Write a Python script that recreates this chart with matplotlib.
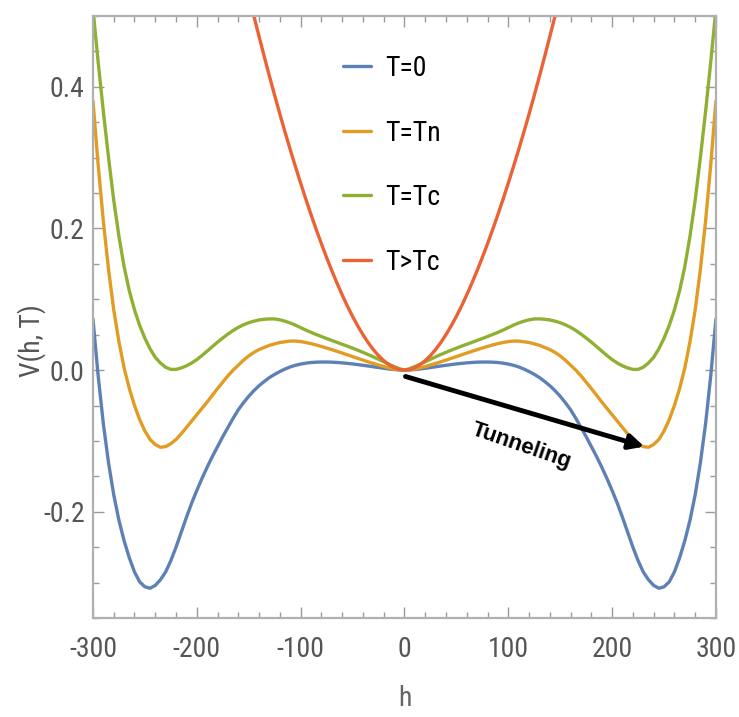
import matplotlib.pyplot as plt
import numpy as np
from matplotlib.ticker import MultipleLocator
from matplotlib import font_manager


def pick_narrow():
    fl = font_manager.fontManager.ttflist
    names = {f.name for f in fl}
    for p in ["Liberation Sans Narrow", "Arial Narrow", "Roboto Condensed",
              "Open Sans Condensed", "Noto Sans Condensed", "DejaVu Sans Condensed"]:
        if p in names:
            return p, "normal", True
    for f in fl:
        if (str(f.stretch) in ("condensed", "semi-condensed") and "Sans" in f.name
                and "Mono" not in f.name and "CJK" not in f.name):
            return f.name, f.stretch, True
    return "Roboto", "normal", False


font_name, font_stretch, is_narrow = pick_narrow()
plt.rcParams["font.family"] = [font_name, "DejaVu Sans"]
plt.rcParams["font.stretch"] = font_stretch
plt.rcParams["axes.unicode_minus"] = False
fs = 20 if is_narrow else 18

# h grid and potential values
h = np.arange(-300, 301, 5)
v_t0 = [0.072, -0.008, -0.076, -0.131, -0.176, -0.212, -0.241, -0.265, -0.285, -0.299,
        -0.306, -0.308, -0.304, -0.296, -0.285, -0.269, -0.250, -0.229, -0.208, -0.188,
        -0.170, -0.153, -0.137, -0.122, -0.108, -0.094, -0.081, -0.068, -0.056, -0.046,
        -0.037, -0.029, -0.022, -0.016, -0.0105, -0.006, -0.002, 0.0015, 0.0045, 0.0068,
        0.0085, 0.0098, 0.0107, 0.0112, 0.0114, 0.0114, 0.0112, 0.0108, 0.0102, 0.0095,
        0.0087, 0.0078, 0.0068, 0.0058, 0.0047, 0.0036, 0.0026, 0.0016, 0.0008, 0.0002,
        0.0,
        0.0002, 0.0008, 0.0016, 0.0026, 0.0036, 0.0047, 0.0058, 0.0068, 0.0078, 0.0087,
        0.0095, 0.0102, 0.0108, 0.0112, 0.0114, 0.0114, 0.0112, 0.0107, 0.0098, 0.0085,
        0.0068, 0.0045, 0.0015, -0.002, -0.006, -0.0105, -0.016, -0.022, -0.029, -0.037,
        -0.046, -0.056, -0.068, -0.081, -0.094, -0.108, -0.122, -0.137, -0.153, -0.170,
        -0.188, -0.208, -0.229, -0.250, -0.269, -0.285, -0.296, -0.304, -0.308, -0.306,
        -0.299, -0.285, -0.265, -0.241, -0.212, -0.176, -0.131, -0.076, -0.008, 0.072]
v_tn = [0.380, 0.290, 0.210, 0.142, 0.085, 0.040, 0.003, -0.026, -0.050, -0.070,
        -0.086, -0.098, -0.105, -0.109, -0.108, -0.104, -0.098, -0.090, -0.081, -0.072,
        -0.063, -0.054, -0.045, -0.0355, -0.026, -0.017, -0.008, 0.000, 0.007, 0.014,
        0.020, 0.025, 0.029, 0.032, 0.035, 0.037, 0.039, 0.040, 0.041, 0.041,
        0.0403, 0.039, 0.0374, 0.0355, 0.0334, 0.0312, 0.0289, 0.0265, 0.0241, 0.0216,
        0.0191, 0.0166, 0.0141, 0.0117, 0.0094, 0.0072, 0.0051, 0.0032, 0.0016, 0.0005,
        0.0,
        0.0005, 0.0016, 0.0032, 0.0051, 0.0072, 0.0094, 0.0117, 0.0141, 0.0166, 0.0191,
        0.0216, 0.0241, 0.0265, 0.0289, 0.0312, 0.0334, 0.0355, 0.0374, 0.039, 0.0403,
        0.041, 0.041, 0.040, 0.039, 0.037, 0.035, 0.032, 0.029, 0.025, 0.020,
        0.014, 0.007, 0.000, -0.008, -0.017, -0.026, -0.0355, -0.045, -0.054, -0.063,
        -0.072, -0.081, -0.090, -0.098, -0.104, -0.108, -0.109, -0.105, -0.098, -0.086,
        -0.070, -0.050, -0.026, 0.003, 0.040, 0.085, 0.142, 0.210, 0.290, 0.380]
v_tc = [0.510, 0.435, 0.365, 0.300, 0.240, 0.189, 0.146, 0.112, 0.085, 0.063,
        0.045, 0.030, 0.018, 0.010, 0.004, 0.001, 0.001, 0.003, 0.006, 0.010,
        0.0148, 0.0206, 0.0269, 0.0332, 0.0395, 0.0453, 0.0509, 0.0560, 0.0604, 0.0640,
        0.0669, 0.0691, 0.0708, 0.0718, 0.0723, 0.0722, 0.071, 0.069, 0.0665, 0.0635,
        0.060, 0.0565, 0.0533, 0.0503, 0.0474, 0.0446, 0.0419, 0.0392, 0.0365, 0.0338,
        0.0310, 0.0281, 0.0251, 0.0220, 0.0187, 0.0153, 0.0118, 0.0083, 0.0050, 0.0020,
        0.0,
        0.0020, 0.0050, 0.0083, 0.0118, 0.0153, 0.0187, 0.0220, 0.0251, 0.0281, 0.0310,
        0.0338, 0.0365, 0.0392, 0.0419, 0.0446, 0.0474, 0.0503, 0.0533, 0.0565, 0.060,
        0.0635, 0.0665, 0.069, 0.071, 0.0722, 0.0723, 0.0718, 0.0708, 0.0691, 0.0669,
        0.0640, 0.0604, 0.0560, 0.0509, 0.0453, 0.0395, 0.0332, 0.0269, 0.0206, 0.0148,
        0.010, 0.006, 0.003, 0.001, 0.001, 0.004, 0.010, 0.018, 0.030, 0.045,
        0.063, 0.085, 0.112, 0.146, 0.189, 0.240, 0.300, 0.365, 0.435, 0.510]
h_hot = np.arange(-150, 151, 5)
v_hot = [0.5291, 0.4998, 0.4709, 0.4426, 0.4148, 0.3878, 0.3615, 0.336, 0.3113, 0.2873,
         0.264, 0.2414, 0.2196, 0.1986, 0.1784, 0.159, 0.1405, 0.1229, 0.1062, 0.0905,
         0.0759, 0.0624, 0.0501, 0.0389, 0.029, 0.0205, 0.0134, 0.0077, 0.0036, 0.001,
         0.0,
         0.001, 0.0036, 0.0077, 0.0134, 0.0205, 0.029, 0.0389, 0.0501, 0.0624, 0.0759,
         0.0905, 0.1062, 0.1229, 0.1405, 0.159, 0.1784, 0.1986, 0.2196, 0.2414, 0.264,
         0.2873, 0.3113, 0.336, 0.3615, 0.3878, 0.4148, 0.4426, 0.4709, 0.4998, 0.5291]

labels = ["T=0", "T=Tn", "T=Tc", "T>Tc"]
colors = ["#5E81B5", "#E19C24", "#8FB032", "#EB6235"]
x_ticks = [-300, -200, -100, 0, 100, 200, 300]
y_ticks = [-0.2, 0.0, 0.2, 0.4]
y_tick_labels = ["-0.2", "0.0", "0.2", "0.4"]

fig = plt.figure(figsize=(7.39, 7.17), dpi=100)
ax = fig.add_axes([0.1258, 0.1381, 0.8430, 0.8396])

series = [(h, v_t0), (h, v_tn), (h, v_tc), (h_hot, v_hot)]
for (x, y), lab, c in zip(series, labels, colors):
    ax.plot(x, y, color=c, lw=2.4, label=lab, solid_capstyle="round",
            solid_joinstyle="round")

ax.set_xlim(-300, 300)
ax.set_ylim(-0.35, 0.5)
ax.set_xticks(x_ticks)
ax.set_xticklabels([str(t) for t in x_ticks])
ax.set_yticks(y_ticks)
ax.set_yticklabels(y_tick_labels)
ax.xaxis.set_minor_locator(MultipleLocator(20))
ax.yaxis.set_minor_locator(MultipleLocator(0.05))
ax.tick_params(which="both", direction="in", top=True, right=True,
               color="#9a9a9a", width=1, labelsize=fs, labelcolor="#555555")
ax.tick_params(which="major", length=8)
ax.tick_params(which="minor", length=4.5)
ax.tick_params(axis="x", pad=13)
ax.tick_params(axis="y", pad=6)
for s in ax.spines.values():
    s.set_color("#b0b0b0")
    s.set_linewidth(1.6)

ax.set_xlabel("h", fontsize=fs, color="#666666")
ax.xaxis.set_label_coords(0.5, -0.112)
ax.set_ylabel("V(h, T)", fontsize=fs, color="#555555")
ax.yaxis.set_label_coords(-0.076, 0.46)

ax.legend(loc="upper left", bbox_to_anchor=(0.402, 0.935), frameon=False,
          fontsize=fs, handlelength=1.0 if is_narrow else 1.1, handletextpad=0.5,
          labelspacing=1.35 if is_narrow else 1.45, borderpad=0, borderaxespad=0)

ax.annotate("", xy=(231, -0.108), xytext=(1, -0.009),
            arrowprops=dict(arrowstyle="-|>", color="black", lw=3.5, mutation_scale=22,
                            shrinkA=0, shrinkB=0))
ax.text(113, -0.107, "Tunneling", rotation=-19, fontsize=16, fontweight="bold",
        family=["Liberation Sans", "DejaVu Sans"], stretch="normal",
        ha="center", va="center", rotation_mode="anchor")

fig.savefig("out.png", dpi=100)
